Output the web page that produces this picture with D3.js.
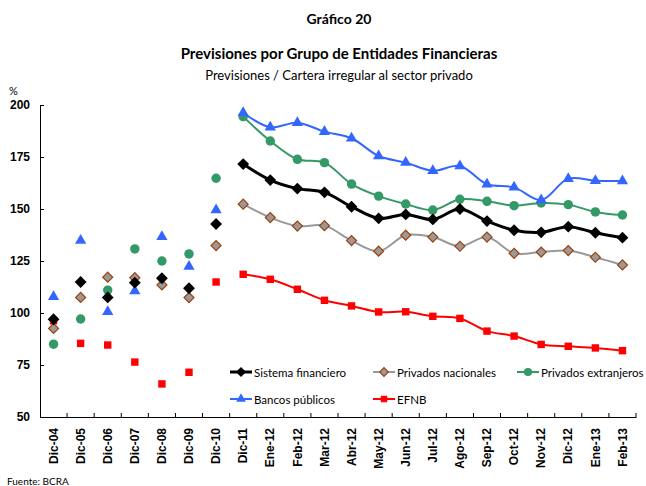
<!DOCTYPE html>
<html>
<head>
<meta charset="utf-8">
<script src="https://cdn.jsdelivr.net/npm/d3@7"></script>
<style>
  body { margin: 0; background: #fff; }
  svg { font-family: Lato, "Open Sans", sans-serif; }
  .axis text { font-weight: bold; font-size: 12px; fill: #000; }
  .axis path, .axis line { stroke: #000; }
</style>
</head>
<body>
<svg id="chart"></svg>
<script>
// categorias (diciembre de cada año, luego mensual)
const annual = ['Dic-04', 'Dic-05', 'Dic-06', 'Dic-07', 'Dic-08', 'Dic-09', 'Dic-10']
const monthly = ['Dic-11', 'Ene-12', 'Feb-12', 'Mar-12', 'Abr-12', 'May-12', 'Jun-12', 'Jul-12',
    'Ago-12', 'Sep-12', 'Oct-12', 'Nov-12', 'Dic-12', 'Ene-13', 'Feb-13']
const categories = annual.concat(monthly)
const yTicks = [50, 75, 100, 125, 150, 175, 200]

// valores (%)
const sistema = [97, 114.9, 107.5, 114.6, 116.7, 111.9, 142.8,
    171.6, 163.9, 159.8, 158, 151.1, 145.5, 147.4, 145, 150, 144.2, 139.8, 138.8, 141.5, 138.6, 136.2]
const nacionales = [92.6, 107.5, 117.2, 117, 113.5, 107.4, 132.4,
    152.3, 145.9, 141.8, 142, 134.8, 129.7, 137.4, 136.5, 132.1, 136.5, 128.7, 129.3, 130, 126.8, 123.1]
const extranjeros = [85, 97.1, 111, 130.8, 125, 128.4, 164.8,
    194.4, 182.7, 173.9, 172.3, 162, 156.2, 152.4, 149.5, 154.7, 153.7, 151.6, 152.9, 152.1, 148.6, 147.1]
const publicos = [107.8, 134.8, 100.6, 110.6, 136.7, 122.3, 149.5,
    196.3, 189.3, 191.5, 187.2, 184, 175.5, 172.3, 168.4, 170.7, 161.9, 160.4, 154.3, 164.6, 163.6, 163.5]
const efnb = [96.3, 85.4, 84.6, 76.4, 65.9, 71.5, 114.9,
    118.6, 116.2, 111.4, 106.1, 103.4, 100.5, 100.6, 98.4, 97.4, 91.3, 88.9, 84.9, 84, 83.2, 81.9]

const series = [
    { name: 'Privados nacionales', values: nacionales, line: '#999999', lw: 2, shape: 'diamond', fill: '#999999', stroke: '#a0400a', size: 50 },
    { name: 'EFNB', values: efnb, line: '#ff0000', lw: 2, shape: 'square', fill: '#ff0000', stroke: 'none', size: 55 },
    { name: 'Privados extranjeros', values: extranjeros, line: '#339966', lw: 2, shape: 'circle', fill: '#339966', stroke: 'none', size: 70 },
    { name: 'Bancos públicos', values: publicos, line: '#3366ff', lw: 2, shape: 'triangle', fill: '#3366ff', stroke: 'none', size: 55 },
    { name: 'Sistema financiero', values: sistema, line: '#000000', lw: 3, shape: 'diamond', fill: '#000000', stroke: 'none', size: 70 }
]
const legendOrder = ['Sistema financiero', 'Privados nacionales', 'Privados extranjeros', 'Bancos públicos', 'EFNB']

const W = 646, H = 486
const margin = { top: 105, right: 10, bottom: 69, left: 40 }
const innerW = 596, innerH = H - margin.top - margin.bottom

const svg = d3.select('#chart').attr('width', W).attr('height', H)

svg.append('text').attr('x', 339).attr('y', 24).attr('text-anchor', 'middle')
    .style('font-weight', 'bold').style('font-size', '14px').text('Gráfico 20')
svg.append('text').attr('x', 339).attr('y', 59).attr('text-anchor', 'middle')
    .style('font-weight', 'bold').style('font-size', '15px').text('Previsiones por Grupo de Entidades Financieras')
svg.append('text').attr('x', 339).attr('y', 80).attr('text-anchor', 'middle')
    .style('font-size', '13px').text('Previsiones / Cartera irregular al sector privado')
svg.append('text').attr('x', 9).attr('y', 95).style('font-size', '11px').text('%')
svg.append('text').attr('x', 7).attr('y', 485).style('font-size', '10px').text('Fuente: BCRA')

const x = d3.scaleBand().domain(categories).range([margin.left, margin.left + innerW])
const y = d3.scaleLinear().domain([50, 200]).range([margin.top + innerH, margin.top])

const yAxis = svg.append('g').attr('class', 'axis')
    .attr('transform', `translate(${margin.left},0)`)
    .call(d3.axisLeft(y).tickValues(yTicks).tickSizeInner(-4).tickSizeOuter(0).tickPadding(10))
yAxis.selectAll('text').style('font-size', '12px')

const xAxis = svg.append('g').attr('class', 'axis')
    .attr('transform', `translate(0,${margin.top + innerH})`)
    .call(d3.axisBottom(x).tickSize(0).tickSizeOuter(0))
xAxis.selectAll('text')
    .attr('transform', 'rotate(-90)')
    .attr('x', -11).attr('y', 0).attr('dy', '0.35em')
    .style('text-anchor', 'end')

// ticks between categories, pointing up
const edges = categories.slice(1).map(c => x(c)).concat([margin.left + innerW])
svg.append('g').selectAll('line').data(edges).join('line')
    .attr('x1', d => d).attr('x2', d => d)
    .attr('y1', margin.top + innerH).attr('y2', margin.top + innerH - 4)
    .attr('stroke', '#000')

const cx = i => x(categories[i]) + x.bandwidth() / 2
const nA = annual.length

// diamonds are squares turned 45 degrees
const symbolType = {
    diamond: d3.symbolSquare,
    square: d3.symbolSquare,
    circle: d3.symbolCircle,
    triangle: d3.symbolTriangle
}

const line = d3.line()
    .x(d => cx(d.i))
    .y(d => y(d.v))
    .curve(d3.curveCatmullRom.alpha(0.5))

function drawMarker(g, s, px, py) {
    const isDiamond = s.shape === 'diamond'
    g.append('path')
        .attr('d', d3.symbol().type(symbolType[s.shape]).size(s.size)())
        .attr('transform', `translate(${px},${py})` + (isDiamond ? ' rotate(45)' : ''))
        .attr('fill', s.fill)
        .attr('stroke', s.stroke)
        .attr('stroke-width', s.stroke === 'none' ? 0 : 1.2)
}

series.forEach(s => {
    const g = svg.append('g')
    const pts = s.values.map((v, i) => ({ i, v })).filter(d => d.i >= nA)
    g.append('path').datum(pts)
        .attr('d', line)
        .attr('fill', 'none')
        .attr('stroke', s.line)
        .attr('stroke-width', s.lw)
    s.values.forEach((v, i) => drawMarker(g, s, cx(i), y(v)))
})

// legend
const legendPos = [[230, 372], [373, 372], [517, 372], [230, 399], [373, 399]]
legendOrder.forEach((name, k) => {
    const s = series.find(d => d.name === name)
    const [lx, ly] = legendPos[k]
    const g = svg.append('g')
    g.append('line').attr('x1', lx).attr('x2', lx + 22).attr('y1', ly).attr('y2', ly)
        .attr('stroke', s.line).attr('stroke-width', s.lw)
    drawMarker(g, Object.assign({}, s, { size: s.size * 0.75 }), lx + 11, ly)
    g.append('text').attr('x', lx + 24).attr('y', ly + 4.5)
        .style('font-size', '11.5px').text(name)
})
</script>
</body>
</html>
